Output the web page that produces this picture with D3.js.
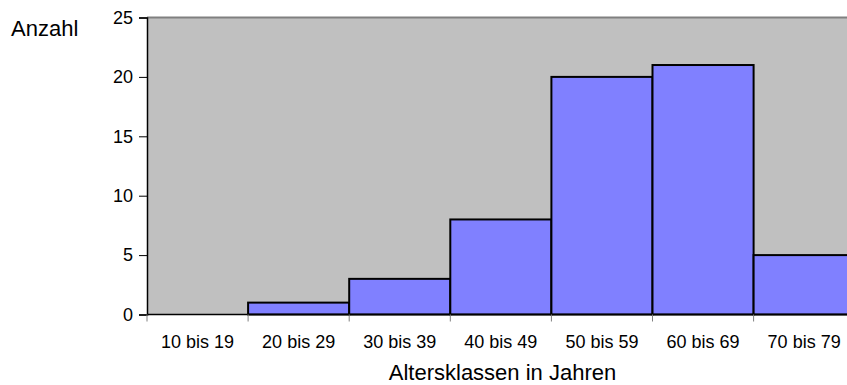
<!DOCTYPE html>
<html>
<head>
<meta charset="utf-8">
<script src="https://cdn.jsdelivr.net/npm/d3@7"></script>
<style>
  html, body { margin: 0; padding: 0; background: #fff; }
  svg { display: block; font-family: "Liberation Sans", Arial, sans-serif; }
</style>
</head>
<body>
<svg id="chart" width="847" height="385"></svg>
<script>
// Altersklassen und Häufigkeiten
const categories = ["10 bis 19", "20 bis 29", "30 bis 39", "40 bis 49", "50 bis 59", "60 bis 69", "70 bis 79"];
const counts = [0, 1, 3, 8, 20, 21, 5];
const yTicks = [0, 5, 10, 15, 20, 25];

const svg = d3.select("#chart");
const plotLeft = 147, plotTop = 17.5, plotBottom = 314.5;
const step = 101.1;
const plotRight = plotLeft + step * categories.length;
const fontFamily = "'Liberation Sans', Arial, sans-serif";

const x = d3.scaleBand().domain(categories).range([plotLeft, plotRight]).padding(0);
const y = d3.scaleLinear().domain([0, 25]).range([plotBottom, plotTop]);

// Plot area background
svg.append("rect")
  .attr("x", plotLeft).attr("y", plotTop)
  .attr("width", plotRight - plotLeft).attr("height", plotBottom - plotTop)
  .attr("fill", "#C0C0C0");

// Top border
svg.append("line")
  .attr("x1", plotLeft).attr("x2", plotRight)
  .attr("y1", plotTop).attr("y2", plotTop)
  .attr("stroke", "#808080").attr("stroke-width", 2);

// Bars
svg.append("g").selectAll("rect")
  .data(categories.map((c, i) => ({ c, v: counts[i] })).filter(d => d.v > 0))
  .join("rect")
  .attr("x", d => x(d.c))
  .attr("y", d => y(d.v))
  .attr("width", x.bandwidth())
  .attr("height", d => y(0) - y(d.v))
  .attr("fill", "#8080FF")
  .attr("stroke", "#000")
  .attr("stroke-width", 2);

// Y axis
const yAxis = svg.append("g")
  .attr("transform", `translate(${plotLeft},0)`)
  .call(d3.axisLeft(y).tickValues(yTicks).tickSize(8).tickPadding(6));
yAxis.select(".domain").attr("stroke", "#000").attr("stroke-width", 1.5);
yAxis.selectAll(".tick line").attr("stroke", "#000");
yAxis.selectAll("text").attr("font-size", 18).attr("fill", "#000")
  .attr("font-family", fontFamily);

// X axis: ticks at class boundaries
const boundaries = categories.map(c => x(c)).concat([plotRight]);
svg.append("line")
  .attr("x1", plotLeft).attr("x2", plotRight)
  .attr("y1", plotBottom).attr("y2", plotBottom)
  .attr("stroke", "#000").attr("stroke-width", 1.5);
svg.append("g").selectAll("line")
  .data(boundaries)
  .join("line")
  .attr("x1", d => d).attr("x2", d => d)
  .attr("y1", plotBottom).attr("y2", plotBottom + 7)
  .attr("stroke", "#808080");
svg.append("g").selectAll("text")
  .data(categories)
  .join("text")
  .attr("x", d => x(d) + x.bandwidth() / 2)
  .attr("y", 347.5)
  .attr("text-anchor", "middle")
  .attr("font-size", 18)
  .text(d => d);

// Axis titles
svg.append("text")
  .attr("x", 11).attr("y", 35.5)
  .attr("font-size", 22)
  .text("Anzahl");
svg.append("text")
  .attr("x", 502.5).attr("y", 380)
  .attr("text-anchor", "middle")
  .attr("font-size", 22)
  .text("Altersklassen in Jahren");
</script>
</body>
</html>
